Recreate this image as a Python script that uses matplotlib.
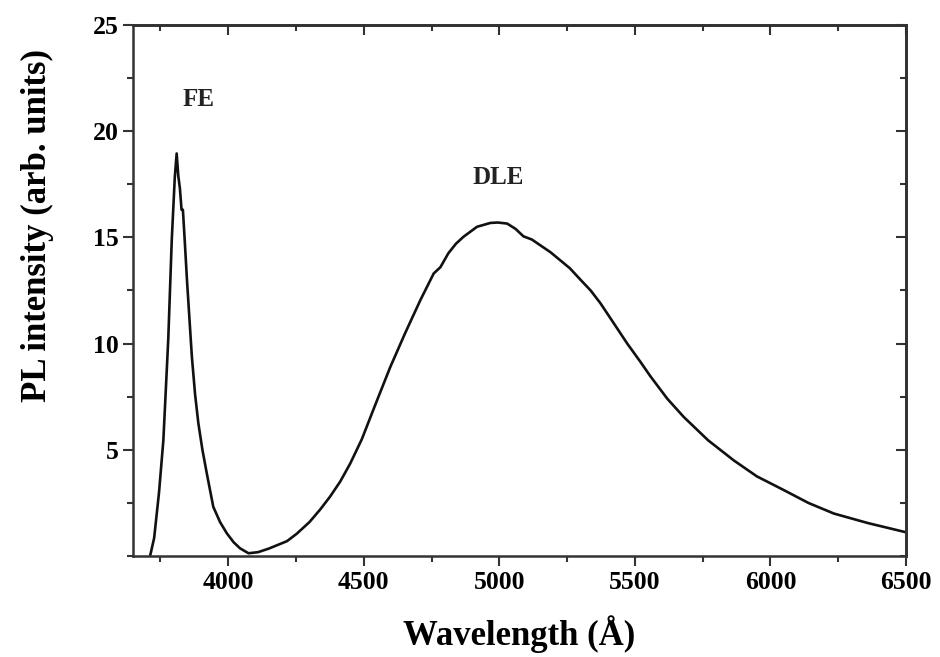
import numpy as np
import matplotlib.pyplot as plt
from matplotlib.ticker import MultipleLocator

# PL spectrum
wavelength = [3712, 3727, 3745, 3761, 3779, 3792, 3803, 3810, 3816, 3822, 3828, 3833,
              3840, 3848, 3857, 3866, 3878, 3890, 3905, 3921, 3945, 3970, 3995, 4020,
              4044, 4075, 4110, 4150, 4217, 4253, 4300, 4340, 4376, 4413, 4450, 4493,
              4542, 4598, 4653, 4709, 4758, 4783, 4812, 4840, 4868, 4918, 4967, 4995,
              5029, 5060, 5089, 5120, 5189, 5260, 5300, 5337, 5373, 5420, 5472, 5520,
              5558, 5620, 5680, 5770, 5865, 5950, 6050, 6140, 6234, 6360, 6493]
intensity = [0.0, 0.85, 3.0, 5.46, 10.2, 14.9, 17.8, 18.95, 17.9, 17.3, 16.3, 16.3,
             14.8, 13.0, 11.2, 9.4, 7.6, 6.25, 5.0, 3.9, 2.32, 1.6, 1.07, 0.65,
             0.36, 0.13, 0.18, 0.35, 0.7, 1.05, 1.6, 2.2, 2.8, 3.5, 4.35, 5.5,
             7.1, 8.9, 10.5, 12.05, 13.3, 13.6, 14.25, 14.7, 15.03, 15.5, 15.68, 15.7,
             15.65, 15.4, 15.05, 14.9, 14.3, 13.55, 13.0, 12.5, 11.9, 11.0, 10.0, 9.15,
             8.45, 7.4, 6.55, 5.45, 4.5, 3.75, 3.1, 2.5, 2.0, 1.55, 1.14]

peak_labels = ['FE', 'DLE']
label_x = [3889, 4997]
label_y = [21.5, 17.8]

plt.rcParams['font.family'] = ['Liberation Serif', 'DejaVu Serif']
plt.rcParams['font.weight'] = 'bold'

fig = plt.figure(figsize=(9.4, 6.57), dpi=100)
ax = fig.add_axes([0.1415, 0.1537, 0.8223, 0.8083])

ax.plot(wavelength, intensity, color='#111111', lw=1.9)

for t, x, y in zip(peak_labels, label_x, label_y):
    ax.text(x, y, t, ha='center', va='center', fontsize=18, fontweight='bold', color='#222222')

ax.set_xlim(3649, 6500)
ax.set_ylim(0, 25)
ax.set_xticks([4000, 4500, 5000, 5500, 6000, 6500])
ax.set_yticks([5, 10, 15, 20, 25])
ax.xaxis.set_minor_locator(MultipleLocator(250))
ax.yaxis.set_minor_locator(MultipleLocator(2.5))

ax.tick_params(which='both', direction='out', width=1.5, color='#333333', labelsize=18.5)
ax.tick_params(which='major', length=7)
ax.tick_params(which='minor', length=4)
for lbl in ax.get_xticklabels() + ax.get_yticklabels():
    lbl.set_fontweight('bold')

# mirrored ticks on top and right, pointing inward
secx = ax.secondary_xaxis('top')
secx.set_xticks([4000, 4500, 5000, 5500, 6000, 6500])
secx.xaxis.set_minor_locator(MultipleLocator(250))
secx.tick_params(which='both', direction='in', labeltop=False, width=1.5, color='#333333')
secx.tick_params(which='major', length=7)
secx.tick_params(which='minor', length=4)
secy = ax.secondary_yaxis('right')
secy.set_yticks([5, 10, 15, 20, 25])
secy.yaxis.set_minor_locator(MultipleLocator(2.5))
secy.tick_params(which='both', direction='in', labelright=False, width=1.5, color='#333333')
secy.tick_params(which='major', length=7)
secy.tick_params(which='minor', length=4)

for s in ax.spines.values():
    s.set_linewidth(1.8)
    s.set_color('#333333')
secx.spines['top'].set_linewidth(1.8)
secy.spines['right'].set_linewidth(1.8)

ax.set_xlabel('Wavelength (Å)', fontsize=25, fontweight='bold')
ax.xaxis.set_label_coords(0.5, -0.112)
ax.set_ylabel('PL intensity (arb. units)', fontsize=25, fontweight='bold')
ax.yaxis.set_label_coords(-0.124, 0.623)
ax.yaxis.label.set_va('center')

fig.savefig('out.png', dpi=100)
